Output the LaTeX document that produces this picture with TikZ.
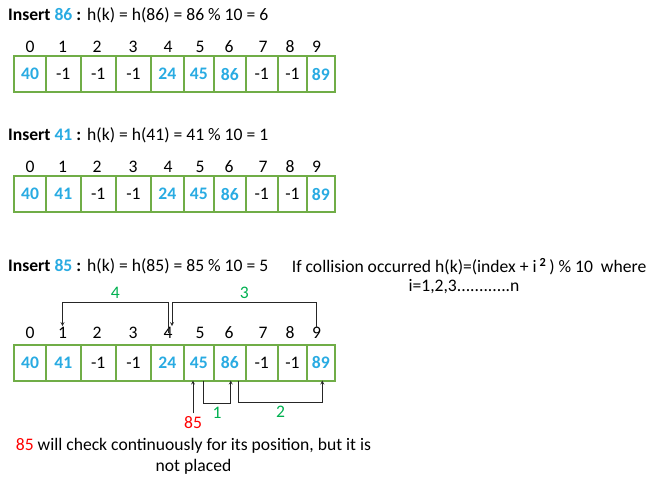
\documentclass[tikz,border=0pt]{standalone}
\usepackage{fontspec}
\setmainfont{Carlito}
\usetikzlibrary{positioning}
\definecolor{keyblue}{RGB}{41,171,226}
\definecolor{cellgreen}{RGB}{112,173,71}
\definecolor{hopgreen}{RGB}{0,176,80}
\definecolor{hitred}{RGB}{255,0,0}
\begin{document}
\begin{tikzpicture}[x=1pt,y=-1pt,>=stealth,font=\fontsize{17.6}{21}\selectfont]
    \tikzstyle{cell}=[rectangle, draw=cellgreen, line width=2pt, minimum height=36pt, inner sep=0pt, outer sep=0pt]
    \tikzstyle{key}=[text=keyblue, font=\fontsize{17.6}{21}\selectfont\bfseries]
    \tikzstyle{free}=[]
    \tikzstyle{idx}=[inner sep=0pt]
    \tikzstyle{head}=[anchor=west, inner sep=0pt]
    \tikzstyle{hop}=[text=hopgreen]
    \tikzstyle{link}=[->, line width=0.8pt, black!85]
    \useasboundingbox (0,0) rectangle (646,498);
    % insert 86
    \node[head] (title86) at (8,15) {\textbf{Insert \textcolor{keyblue}{86} :}\hspace{6pt}h(k) = h(86) = 86 \% 10 = 6};
    \foreach \i/\x/\w/\s/\v in {0/30/32/key/40, 1/63.25/34.5/free/-1, 2/98.25/35.5/free/-1, 3/133.5/35/free/-1, 4/167.25/32.5/key/24, 5/198.75/30.5/key/45, 6/229.75/31.5/key/86, 7/261.75/32.5/free/-1, 8/292.5/29/free/-1, 9/320.75/27.5/key/89}
        \node[cell, \s, minimum width=\w pt] (a\i) at (\x,74) {\v};
    % insert 41
    \node[head] (title41) at (8,135) {\textbf{Insert \textcolor{keyblue}{41} :}\hspace{6pt}h(k) = h(41) = 41 \% 10 = 1};
    \foreach \i/\x/\w/\s/\v in {0/30/32/key/40, 1/63.25/34.5/key/41, 2/98.25/35.5/free/-1, 3/133.5/35/free/-1, 4/167.25/32.5/key/24, 5/198.75/30.5/key/45, 6/229.75/31.5/key/86, 7/261.75/32.5/free/-1, 8/292.5/29/free/-1, 9/320.75/27.5/key/89}
        \node[cell, \s, minimum width=\w pt] (b\i) at (\x,194) {\v};
    % insert 85
    \node[head] (title85) at (8,266.7) {\textbf{Insert \textcolor{keyblue}{85} :}\hspace{6pt}h(k) = h(85) = 85 \% 10 = 5};
    \node[head] (rule) at (291.7,266.7) {If collision occurred h(k)=(index + i\,\textsuperscript{\textbf{2}}\,) \% 10\hspace{8pt}where};
    \node (range) at (464,287) {i=1,2,3............n};
    \foreach \i/\x/\w/\s/\v in {0/30/32/key/40, 1/63.25/34.5/key/41, 2/98.25/35.5/free/-1, 3/133.5/35/free/-1, 4/167.25/32.5/key/24, 5/198.75/30.5/key/45, 6/229.75/31.5/key/86, 7/261.75/32.5/free/-1, 8/292.5/29/free/-1, 9/320.75/27.5/key/89}
        \node[cell, \s, minimum width=\w pt] (c\i) at (\x,362.5) {\v};
    % index labels
    \foreach \r/\y in {a/47, b/167, c/333}
        \foreach \i/\lx in {0/30, 1/62.5, 2/97, 3/133, 4/168, 5/200, 6/229, 7/263, 8/290, 9/316.5}
            \node[idx] (\r i\i) at (\lx,\y) {\i};
    % probing
    \coordinate (hoprow) at (0,302);
    \draw[link, shorten >=1pt] (ci4.center) -- (ci4.center |- hoprow) -| node[pos=0.25, above, hop]{4} (ci1.north);
    \draw[link, shorten >=1pt] (ci9.north) -- (ci9.north |- hoprow) -| node[pos=0.25, above, hop]{3} ([xshift=4pt]ci4.north);
    \node[text=hitred] (new85) at (193,423) {85};
    \draw[link] (new85.north) -- (new85.north |- c5.south);
    \draw[link] ([xshift=4.5pt]c5.south) -- ++(0,23) -| node[pos=0.25, below, hop]{1} ([xshift=1pt]c6.south);
    \draw[link] ([xshift=9pt]c6.south) -- ++(0,22) -| node[pos=0.25, below, hop]{2} ([xshift=1.5pt]c9.south);
    \node[align=center] (verdict) at (193.5,456.8) {\textcolor{hitred}{85} will check continuously for its position, but it is\\not placed};
\end{tikzpicture}
\end{document}
